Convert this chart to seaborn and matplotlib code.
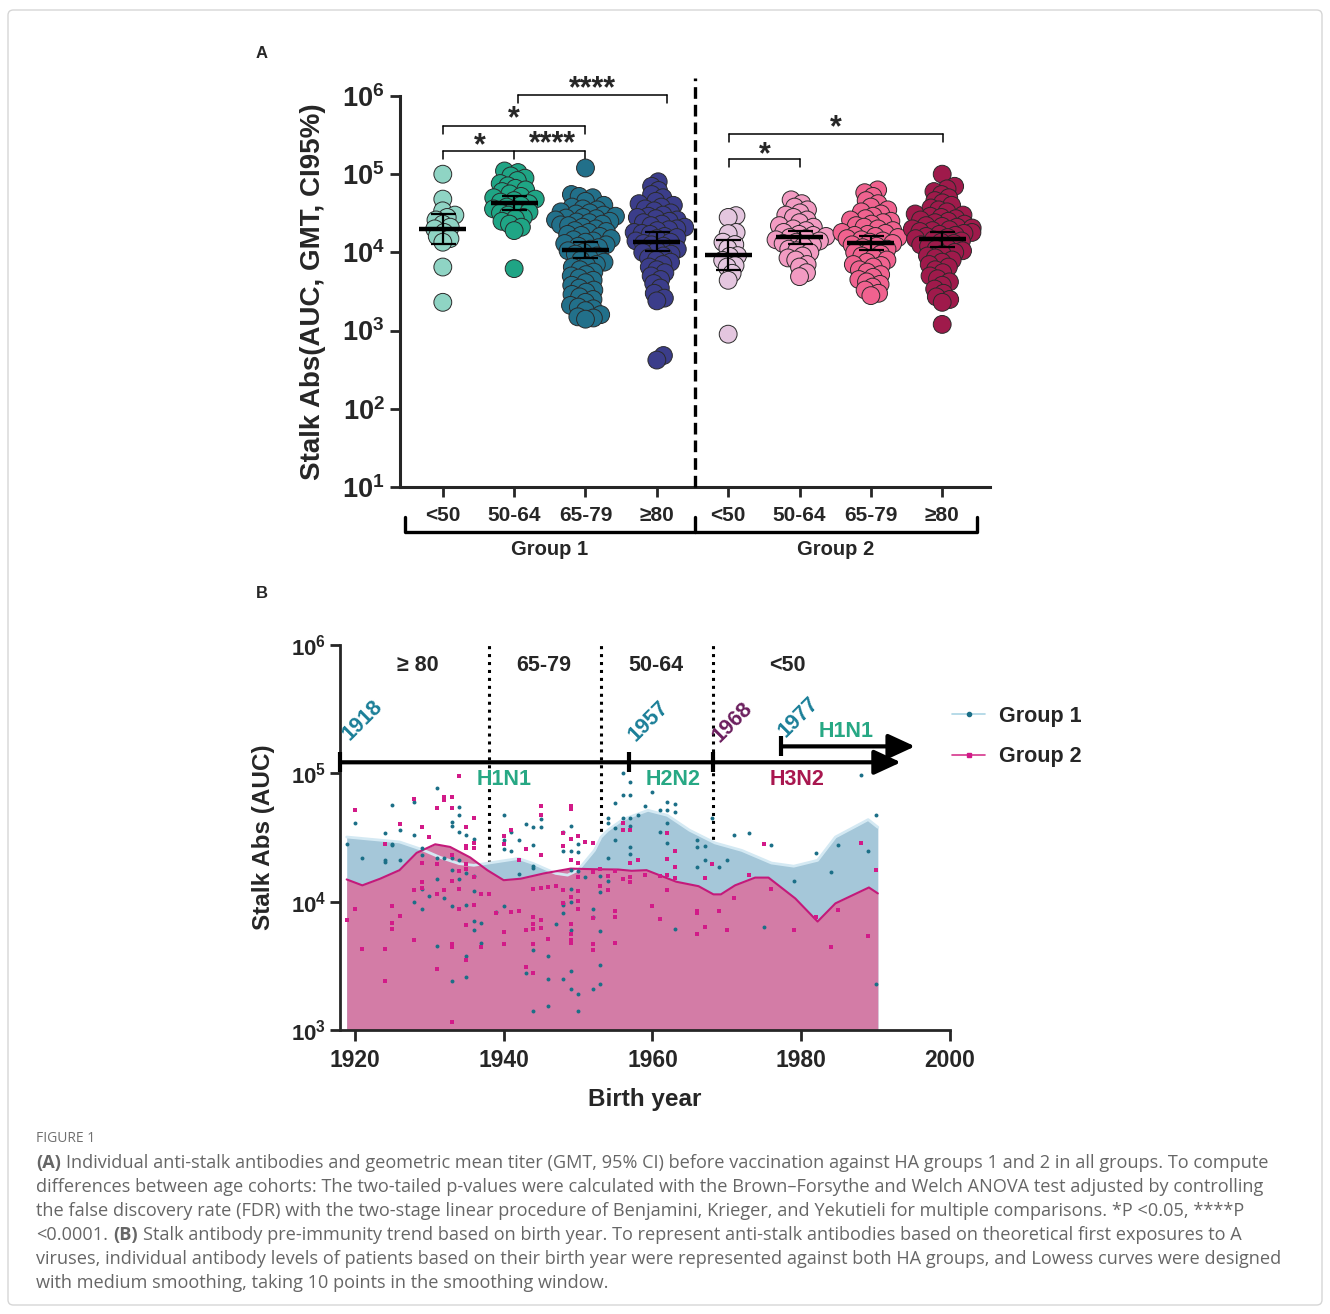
import numpy as np
import pandas as pd
import seaborn as sns
import matplotlib.pyplot as plt
from matplotlib.lines import Line2D
from matplotlib.patches import FancyBboxPatch
from matplotlib.ticker import NullLocator
import matplotlib.transforms as mtransforms

# ---------------- data (AUC in thousands) ----------------
cohorts = ["<50", "50-64", "65-79", "≥80"]

# panel A, group 1
g1_lt50 = [100, 48, 34, 30, 28, 26, 23, 21, 20, 18, 16, 15, 13.5, 6.5, 2.3]
g1_50_64 = [110, 105, 95, 89, 83, 76, 71, 66, 63, 60, 56, 52, 50, 48, 46, 44, 42,
            40, 38, 36, 35, 33, 32, 30, 28, 27, 25, 23, 21, 19, 6.2]
g1_65_79 = [120, 55, 52, 50, 45, 40, 38, 36, 35, 33, 32, 31, 30, 29, 28, 27.5, 27,
            26, 25, 24.5, 24, 23, 22.5, 22, 21, 20, 19, 18.5, 18, 17, 16.5, 16, 15,
            14.5, 14, 13.5, 13, 12.5, 12, 11.5, 11, 10.5, 10, 9.5, 9, 8.5, 8, 7.5, 7,
            6.8, 6.5, 6, 5.6, 5.2, 5, 4.7, 4.4, 4.1, 3.8, 3.5, 3.3, 3.1, 2.9, 2.7,
            2.5, 2.3, 2.1, 2.0, 1.9, 1.8, 1.6, 1.5, 1.45, 1.4]
g1_ge80 = [80, 70, 62, 55, 50, 45, 42, 40, 38, 36, 34, 32, 30, 29, 28, 27, 26, 25,
           24, 23, 22, 21, 20, 19.5, 19, 18, 17.5, 17, 16, 15.5, 15, 14, 13.5, 13,
           12.5, 12, 11, 10.5, 10, 9.5, 9, 8.5, 8, 7.5, 7, 6.5, 6, 5.5, 5, 4.5, 4,
           3.5, 3, 2.6, 2.4, 0.48, 0.42]
# panel A, group 2
g2_lt50 = [29.5, 28, 18, 17.4, 13.5, 12.6, 11.2, 9.1, 8.9, 7.9, 6.8, 6.5, 5.4, 4.4, 0.9]
g2_50_64 = [47, 42, 38, 35, 32, 30, 28, 26, 24, 22, 21, 20, 19, 18, 17, 16.5, 16,
            15.5, 15, 14.5, 14, 13.5, 13, 12.5, 12, 11, 10.5, 10, 9, 8.5, 8, 7, 6.5,
            5.5, 4.9]
g2_65_79 = [63, 58, 52, 46, 42, 38, 35, 33, 31, 29, 27, 26, 25, 24, 23, 22, 21, 20,
            19, 18, 17.5, 17, 16.5, 16, 15.5, 15, 14.5, 14, 13.5, 13, 12.5, 12, 11.5,
            11, 10.5, 10, 9.5, 9, 8.5, 8, 7.5, 7, 6.8, 6.5, 6, 5.6, 5.2, 4.8, 4.5,
            4.2, 3.9, 3.6, 3.3, 3.0, 2.8]
g2_ge80 = [100, 70, 65, 60, 55, 50, 46, 43, 40, 37, 35, 33, 31, 30, 29, 28, 27, 26,
           25, 24, 23, 22, 21.5, 21, 20.5, 20, 19.5, 19, 18.5, 18, 17.5, 17, 16.5, 16,
           15.5, 15, 14.5, 14, 13.5, 13, 12.5, 12, 11.5, 11, 10.5, 10, 9.5, 9, 8.5,
           8, 7.5, 7, 6.5, 6, 5.5, 5, 4.6, 4.2, 3.8, 3.4, 3.0, 2.7, 2.5, 2.3, 1.2]

# panel B, individual points (birth year, AUC thousands)
g1_year = [1919, 1920, 1921, 1924, 1924, 1924, 1925, 1925, 1925, 1926, 1926,
           1928, 1928, 1928, 1929, 1929, 1929, 1929, 1930, 1931, 1931, 1931, 1931,
           1932, 1932, 1933, 1933, 1933, 1933, 1933, 1933, 1934, 1934, 1934, 1934, 1934,
           1935, 1935, 1935, 1935, 1935, 1936, 1936, 1936, 1936, 1936, 1937, 1937,
           1939, 1940, 1940, 1940, 1940, 1941, 1941, 1942, 1942, 1943, 1943,
           1944, 1944, 1944, 1944, 1944, 1944, 1945, 1945, 1946, 1946, 1946, 1947,
           1948, 1948, 1948, 1948, 1948, 1948, 1949, 1949, 1949, 1949, 1949, 1949, 1949, 1949,
           1950, 1950, 1950, 1950, 1950, 1951, 1952, 1952, 1952, 1953, 1953, 1953, 1953, 1953,
           1954, 1954, 1954, 1954, 1955, 1955, 1955, 1956, 1956, 1956,
           1957, 1957, 1957, 1957, 1957, 1957, 1958, 1959, 1960, 1961, 1961,
           1962, 1962, 1962, 1962, 1963, 1963, 1963, 1966, 1966, 1966, 1967, 1967,
           1968, 1969, 1970, 1971, 1973, 1975, 1976, 1979, 1982, 1984, 1985, 1988, 1989, 1990, 1990]
g1_auc = [28, 41, 22, 34, 21, 20.5, 57, 28, 27.5, 36, 21,
          60, 33, 9.9, 26, 23, 12.5, 8.8, 11, 77, 22, 14.9, 4.5,
          22, 10.7, 42, 39, 22, 17.6, 9.2, 2.4, 55, 47, 35, 21, 14.9,
          33, 16.7, 9.5, 3.8, 2.6, 31, 15.8, 12.2, 7.1, 6.0, 6.8, 4.8,
          8.3, 47, 30, 25.5, 9.3, 35, 25, 30.5, 16.4, 40, 2.8,
          38, 27.5, 19, 18.2, 4.2, 1.4, 44, 38, 3.8, 2.5, 1.55, 6.7,
          35, 25, 9.8, 9.5, 8.1, 2.5, 39, 25, 17.6, 12.6, 9.9, 6.0, 2.9, 2.1,
          28, 24.5, 17.4, 1.9, 1.4, 15.5, 8.8, 7.6, 2.1, 15.8, 12, 5.9, 3.2, 2.3,
          45, 41, 22, 14.5, 59, 37.5, 30.5, 101, 68, 45,
          85, 68, 45, 39, 26.5, 23.5, 47.5, 55.5, 71, 52, 35,
          60, 52, 41, 28.5, 58, 50, 6.1, 30.5, 26.5, 18.6, 27, 21,
          44.5, 18.5, 21, 33, 34, 6.4, 27.5, 14.5, 24, 16.9, 27.5, 97, 25, 47, 2.3]

g2_year = [1919, 1920, 1920, 1921, 1924, 1924, 1924, 1925, 1925, 1925, 1926, 1926,
           1928, 1928, 1928, 1929, 1929, 1929, 1929, 1930, 1931, 1931, 1931, 1931,
           1932, 1932, 1932, 1933, 1933, 1933, 1933, 1933, 1933, 1933, 1934, 1934, 1934, 1934,
           1935, 1935, 1935, 1935, 1935, 1935, 1935, 1936, 1936, 1936, 1936, 1936,
           1937, 1937, 1938, 1939,
           1940, 1940, 1940, 1940, 1941, 1941, 1942, 1942, 1943, 1943, 1943,
           1944, 1944, 1944, 1944, 1944, 1944, 1945, 1945, 1945, 1945, 1945, 1945,
           1946, 1946, 1947, 1948, 1948, 1948, 1948,
           1949, 1949, 1949, 1949, 1949, 1949, 1949, 1949, 1949,
           1950, 1950, 1950, 1950, 1950, 1950, 1951, 1952, 1952, 1952, 1952, 1952, 1953, 1953,
           1954, 1954, 1955, 1955, 1955, 1955, 1956, 1956, 1956, 1957, 1957, 1957, 1957,
           1958, 1959, 1960, 1961, 1961, 1962, 1962, 1962, 1962, 1963, 1963, 1963,
           1966, 1966, 1966, 1967, 1967, 1968, 1969, 1970, 1971, 1973, 1975, 1976,
           1979, 1982, 1984, 1985, 1988, 1989, 1990]
g2_auc = [7.2, 51.5, 8.7, 4.3, 28, 4.3, 2.4, 9.2, 6.8, 6.1, 40.6, 7.8,
          63, 12.4, 5.0, 38, 20, 14.2, 12.7, 32, 54, 19.8, 11.4, 3.0,
          65, 62, 12.3, 65, 54, 23, 14.4, 4.7, 4.4, 1.15, 95, 17.4, 12.6, 8.7,
          38, 27, 26, 19.5, 18, 6.6, 3.5, 45, 28.5, 26, 15.6, 9.5,
          11.4, 4.4, 11.4, 8.2,
          32.5, 28, 5.8, 4.7, 36, 8.3, 21, 8.5, 25.5, 6.0, 3.1,
          12.5, 7.6, 6.7, 6.1, 4.7, 2.8, 56, 47, 23, 12.7, 7.2, 6.2,
          13, 5.1, 13.2, 34.5, 27, 12.4, 9.7,
          56, 53, 31, 21, 10.9, 6.7, 5.6, 5.0, 4.8,
          32.5, 20, 15.5, 12.2, 10.2, 8.7, 29, 28.5, 17, 7.4, 4.7, 4.2, 18, 13.2,
          15.8, 12.4, 17.2, 8.4, 7.6, 4.8, 41, 36, 15, 36.5, 20, 15.5, 14.3,
          21, 16, 9.3, 15.8, 7.3, 34.5, 21.5, 16, 12.3, 24.8, 18.7, 15.2,
          8.5, 8.2, 5.6, 15.3, 6.3, 19.5, 8.5, 6, 10.7, 16, 28, 12.6,
          6, 7.6, 4.4, 8.6, 28.8, 5.4, 17.5]

# panel B, Lowess curves (AUC thousands)
g1_curve_year = [1918.9, 1922.5, 1926, 1929, 1931.5, 1934, 1936, 1938, 1942, 1944, 1947,
                 1948.6, 1950, 1952.2, 1953.1, 1954, 1956, 1959.4, 1962, 1965, 1968.4,
                 1972, 1976, 1979, 1982.2, 1984.6, 1989, 1990.3]
g1_curve = [31.9, 30.5, 29.2, 25.5, 22.1, 19.8, 19.2, 20.0, 21.7, 19.8, 16.6,
            16.1, 17.6, 25.1, 31.9, 36, 43.6, 51.5, 47.1, 36, 28.7,
            25.1, 20, 18.9, 21, 31.9, 43.6, 38]
g2_curve_year = [1918.9, 1921, 1923.4, 1926, 1928.3, 1930.8, 1932.8, 1935.5, 1937.8, 1940,
                 1942.3, 1945.4, 1949, 1952.2, 1955.4, 1957.2, 1959.2, 1963.2, 1966.2,
                 1968.2, 1969.2, 1971.1, 1973.8, 1975.6, 1979.2, 1982.2, 1984.6, 1989.1, 1990.3]
g2_curve = [14.9, 13.4, 15.1, 17.6, 24, 28, 26.7, 22.1, 17.6, 14.7,
            15.1, 16.6, 18.1, 17.9, 17.8, 17.4, 17.6, 14.3, 13.2,
            11.4, 11.4, 13.4, 15.4, 15.4, 10.6, 7.0, 9.7, 12.9, 11.6]

assert len(g1_year) == len(g1_auc) and len(g2_year) == len(g2_auc)

pal_a = ["#8fd4c4", "#1fa585", "#22708a", "#3b3d8a",
         "#e4c6df", "#f29bc2", "#f0628f", "#9f1a4b"]
teal_pt = "#1b6f87"
pink_pt = "#d21a88"

# ---------------- style ----------------
sns.set_style("ticks")
plt.rcParams["font.family"] = ["Liberation Sans", "DejaVu Sans"]
plt.rcParams["mathtext.fontset"] = "custom"
plt.rcParams["mathtext.rm"] = "Liberation Sans:bold"
plt.rcParams["mathtext.bf"] = "Liberation Sans:bold"
plt.rcParams["mathtext.default"] = "bf"

W, H = 1330, 1314
fig = plt.figure(figsize=(W / 100, H / 100), dpi=100)


def swarm_offsets(vals, d=8.0, px_dec=78.2, px_cat=71.3, maxw=0.42):
    # beeswarm with partial overlap (like a Prism column scatter)
    ys = np.log10(vals) * px_dec
    xs = np.zeros(len(ys))
    placed = []
    for i in np.argsort(ys):
        near = [j for j in placed if abs(ys[j] - ys[i]) < d]
        cands = [0.0]
        for j in near:
            r = np.sqrt(d ** 2 - (ys[j] - ys[i]) ** 2)
            cands += [xs[j] + r, xs[j] - r]
        cands = sorted(cands, key=abs)
        best = cands[-1]
        for c in cands:
            if all((c - xs[j]) ** 2 + (ys[j] - ys[i]) ** 2 >= d ** 2 - 1e-6 for j in near):
                best = c
                break
        xs[i] = np.clip(best, -maxw * px_cat, maxw * px_cat)
        placed.append(i)
    return xs / px_cat


# ================= panel A =================
groups_a = [g1_lt50, g1_50_64, g1_65_79, g1_ge80, g2_lt50, g2_50_64, g2_65_79, g2_ge80]
keys = ["G1 " + c for c in cohorts] + ["G2 " + c for c in cohorts]
pos = np.concatenate([i + swarm_offsets(np.array(g) * 1000) for i, g in enumerate(groups_a)])
df_a = pd.DataFrame({"cohort": np.repeat(keys, [len(g) for g in groups_a]),
                     "pos": pos,
                     "auc": np.concatenate(groups_a) * 1000})

ax_a = fig.add_axes([400 / W, 1 - 487 / H, 590 / W, 391 / H])
ax_a.set_yscale("log")
sns.scatterplot(data=df_a, x="pos", y="auc", hue="cohort", hue_order=keys,
                palette=pal_a, s=165, edgecolor="#2a2a2a", linewidth=0.7,
                legend=False, ax=ax_a, zorder=4)

# geometric mean and 95% CI
for i, g in enumerate(groups_a):
    lg = np.log10(np.array(g) * 1000)
    m = lg.mean()
    se = lg.std(ddof=1) / np.sqrt(len(lg))
    gm = 10 ** m
    ax_a.plot([i - 0.33, i + 0.33], [gm, gm], color="k", lw=3.2, zorder=6,
              solid_capstyle="butt")
    ax_a.errorbar(i, gm, yerr=[[gm - 10 ** (m - 1.96 * se)], [10 ** (m + 1.96 * se) - gm]],
                  color="k", lw=1.6, capsize=9, capthick=1.6, zorder=6)

ax_a.set_xlim(-0.6, 7.67)
ax_a.set_ylim(10, 1e6)
ax_a.set_yticks([10 ** k for k in range(1, 7)])
ax_a.set_yticklabels([rf"$10^{{{k}}}$" for k in range(1, 7)], fontsize=19.5)
ax_a.yaxis.set_minor_locator(NullLocator())
ax_a.set_xticks(range(8))
ax_a.set_xticklabels(cohorts * 2, fontsize=15, fontweight="bold")
ax_a.tick_params(axis="y", width=2, length=7, pad=4)
ax_a.tick_params(axis="x", width=2, length=7, pad=7)
for s in ["top", "right"]:
    ax_a.spines[s].set_visible(False)
for s in ["left", "bottom"]:
    ax_a.spines[s].set_linewidth(2.2)
ax_a.set_xlabel("")
ax_a.set_ylabel("Stalk Abs(AUC, GMT, CI95%)", fontsize=20, fontweight="bold")
ax_a.yaxis.set_label_coords(-0.125, 0.5)

# dashed separator between HA groups
ax_a.plot([3.534, 3.534], [10, 10 ** 6.23], ls=(0, (3.5, 1.8)), lw=2.4, color="k",
          clip_on=False, zorder=3)

# group brackets below the axis
trans_a = mtransforms.blended_transform_factory(ax_a.transData, ax_a.transAxes)
ax_a.plot([-0.533, 7.49], [-0.115, -0.115], transform=trans_a, color="k", lw=2.4,
          clip_on=False, solid_capstyle="butt")
for xx in (-0.533, 3.534, 7.49):
    ax_a.plot([xx, xx], [-0.077, -0.115], transform=trans_a, color="k", lw=2.4,
              clip_on=False)
ax_a.text(1.5, -0.161, "Group 1", transform=trans_a, ha="center", va="center",
          fontsize=14.5, fontweight="bold")
ax_a.text(5.51, -0.161, "Group 2", transform=trans_a, ha="center", va="center",
          fontsize=14.5, fontweight="bold")


# significance brackets
def bracket(x0, x1, ylog, mids=()):
    y, yt = 10 ** ylog, 10 ** (ylog - 0.1)
    ax_a.plot([x0, x1], [y, y], color="k", lw=1.1, clip_on=False)
    for xx in (x0, x1) + tuple(mids):
        ax_a.plot([xx, xx], [y, yt], color="k", lw=1.1, clip_on=False)


def stars(x, ylog, s, fs=22):
    ax_a.annotate(s, (x, 10 ** ylog), xytext=(0, -0.58 * fs), textcoords="offset points",
                  ha="center", va="baseline", fontsize=fs, fontweight="bold",
                  annotation_clip=False)


bracket(1.05, 3.14, 6.013)
bracket(0, 2, 5.616)
bracket(0, 2, 5.297, mids=(1,))
bracket(4.01, 7.01, 5.514)
bracket(4.01, 5.0, 5.194)
stars(2.1, 6.217, "****")
stars(1.0, 5.821, "*")
stars(0.52, 5.488, "*")
stars(1.54, 5.501, "****")
stars(5.51, 5.706, "*")
stars(4.52, 5.373, "*")

# ================= panel B =================
ax_b = fig.add_axes([340 / W, 1 - 1030 / H, 610 / W, 385 / H])
ax_b.set_yscale("log")
ax_b.fill_between(g1_curve_year, np.array(g1_curve) * 1000, 1000, color="#a5c7d9",
                  lw=0, zorder=1)
ax_b.fill_between(g2_curve_year, np.array(g2_curve) * 1000, 1000, color="#d37ca6",
                  lw=0, zorder=2)
sns.lineplot(x=g1_curve_year, y=np.array(g1_curve) * 1000, color="#d4e9f3", lw=2,
             ax=ax_b, zorder=3)
sns.lineplot(x=g2_curve_year, y=np.array(g2_curve) * 1000, color="#c4197a", lw=1.5,
             ax=ax_b, zorder=4)
sns.scatterplot(x=g1_year, y=np.array(g1_auc) * 1000, marker="o", s=8, color=teal_pt,
                linewidth=0, ax=ax_b, zorder=5)
sns.scatterplot(x=g2_year, y=np.array(g2_auc) * 1000, marker="s", s=8, color=pink_pt,
                linewidth=0, ax=ax_b, zorder=5)

ax_b.set_xlim(1918, 2000)
ax_b.set_ylim(1e3, 1e6)
ax_b.vlines([1938, 1953.1, 1968.1], 1e3, 1e6, colors="k", linestyles=(0, (1, 1.6)),
            lw=2.2, zorder=0.5)

ax_b.set_xticks([1920, 1940, 1960, 1980, 2000])
ax_b.set_xticklabels(["1920", "1940", "1960", "1980", "2000"], fontsize=16.5,
                     fontweight="bold")
ax_b.set_yticks([1e3, 1e4, 1e5, 1e6])
ax_b.set_yticklabels([rf"$10^{{{k}}}$" for k in range(3, 7)], fontsize=16)
ax_b.yaxis.set_minor_locator(NullLocator())
ax_b.tick_params(axis="x", width=2, length=8, pad=6)
ax_b.tick_params(axis="y", width=2, length=7, pad=3)
for s in ["top", "right"]:
    ax_b.spines[s].set_visible(False)
for s in ["left", "bottom"]:
    ax_b.spines[s].set_linewidth(2)
ax_b.set_xlabel("Birth year", fontsize=17.5, fontweight="bold")
ax_b.xaxis.set_label_coords(0.5, -0.151)
ax_b.set_ylabel("Stalk Abs (AUC)", fontsize=17.5, fontweight="bold")
ax_b.yaxis.set_label_coords(-0.107, 0.5)

# age cohort labels
for x, lab in zip([1928.5, 1945.4, 1960.5, 1978.2], ["≥ 80", "65-79", "50-64", "<50"]):
    ax_b.text(x, 10 ** 5.84, lab, ha="center", va="center", fontsize=15.5,
              fontweight="bold")

# timelines of circulating subtypes
arrow_kw = dict(arrowstyle="-|>,head_length=0.65,head_width=0.3", color="k", lw=3,
                mutation_scale=25, shrinkA=0, shrinkB=0)
ax_b.annotate("", xy=(1993.4, 10 ** 5.086), xytext=(1918, 10 ** 5.086),
              arrowprops=arrow_kw, annotation_clip=False)
ax_b.annotate("", xy=(1995.3, 10 ** 5.21), xytext=(1977.3, 10 ** 5.21),
              arrowprops=arrow_kw, annotation_clip=False)
for xx, yc in [(1918, 5.086), (1956.8, 5.086), (1968.2, 5.086), (1977.3, 5.21)]:
    ax_b.plot([xx, xx], [10 ** (yc - 0.078), 10 ** (yc + 0.078)], color="k", lw=3,
              clip_on=False, zorder=7, solid_capstyle="butt")

for x, y, lab, col in [(1921.1, 5.41, "1918", "#1b7f98"), (1959.5, 5.41, "1957", "#1b7f98"),
                       (1970.8, 5.40, "1968", "#6b1f5e"), (1979.7, 5.44, "1977", "#1b7f98")]:
    ax_b.text(x, 10 ** y, lab, rotation=45, rotation_mode="anchor", ha="center",
              va="center", fontsize=15.5, fontweight="bold", color=col)
for x, y, lab, col in [(1940.1, 4.953, "H1N1", "#27a884"), (1962.8, 4.953, "H2N2", "#27a884"),
                       (1979.5, 4.953, "H3N2", "#a8174f"), (1986.1, 5.327, "H1N1", "#27a884")]:
    ax_b.text(x, 10 ** y, lab, ha="center", va="center", fontsize=15.5,
              fontweight="bold", color=col)

handles = [Line2D([], [], color="#aad4e4", lw=1.2, marker="o", ms=3,
                  mfc=teal_pt, mec=teal_pt),
           Line2D([], [], color="#d6368c", lw=1.2, marker="s", ms=3,
                  mfc=pink_pt, mec=pink_pt)]
ax_b.legend(handles, ["Group 1", "Group 2"], loc="center left",
            bbox_to_anchor=(952 / W, 1 - 736.5 / H), bbox_transform=fig.transFigure,
            frameon=False, borderpad=0, borderaxespad=0, handlelength=1.55,
            handletextpad=0.65, labelspacing=0.9,
            prop={"size": 15.5, "weight": "bold"})

# ================= overlay: labels, caption, frame =================
ov = fig.add_axes([0, 0, 1, 1])
ov.axis("off")
ov.set_xlim(0, W)
ov.set_ylim(H, 0)
ov.text(262, 54, "A", ha="center", va="center", fontsize=12, fontweight="bold")
ov.text(262, 594, "B", ha="center", va="center", fontsize=12, fontweight="bold")

cap_font = ["Open Sans", "DejaVu Sans"]
cap_col = "#666666"
cap_fs = 13.1
ov.text(36, 1139, "FIGURE 1", ha="left", va="center", fontsize=10, color="#707070",
        family=cap_font)
caption = [
    [("(A)", "bold"), ("Individual anti-stalk antibodies and geometric mean titer (GMT, 95% CI) "
                       "before vaccination against HA groups 1 and 2 in all groups. To compute", "normal")],
    [("differences between age cohorts: The two-tailed p-values were calculated with the "
      "Brown–Forsythe and Welch ANOVA test adjusted by controlling", "normal")],
    [("the false discovery rate (FDR) with the two-stage linear procedure of Benjamini, Krieger, "
      "and Yekutieli for multiple comparisons. *P <0.05, ****P", "normal")],
    [("<0.0001.", "normal"), ("(B)", "bold"), ("Stalk antibody pre-immunity trend based on birth "
                                              "year. To represent anti-stalk antibodies based on "
                                              "theoretical first exposures to A", "normal")],
    [("viruses, individual antibody levels of patients based on their birth year were represented "
      "against both HA groups, and Lowess curves were designed", "normal")],
    [("with medium smoothing, taking 10 points in the smoothing window.", "normal")],
]
for k, parts in enumerate(caption):
    yb = 1163 + 24 * k + 5
    prev = None
    for s, w in parts:
        if prev is None:
            prev = ov.text(36, yb, s, ha="left", va="baseline", fontsize=cap_fs,
                           color=cap_col, fontweight=w, family=cap_font)
        else:
            prev = ov.annotate(s, xy=(1, 0), xycoords=prev, xytext=(3.6, 0),
                               textcoords="offset points", ha="left", va="bottom",
                               fontsize=cap_fs, color=cap_col, fontweight=w,
                               family=cap_font)

frame = FancyBboxPatch((8 / W, 1 - 1305 / H), 1314 / W, 1295 / H,
                       boxstyle="round,pad=0,rounding_size=0.004",
                       transform=fig.transFigure, fill=False, ec="#d6d6d6", lw=1)
fig.add_artist(frame)

fig.savefig("out.png", dpi=100)
